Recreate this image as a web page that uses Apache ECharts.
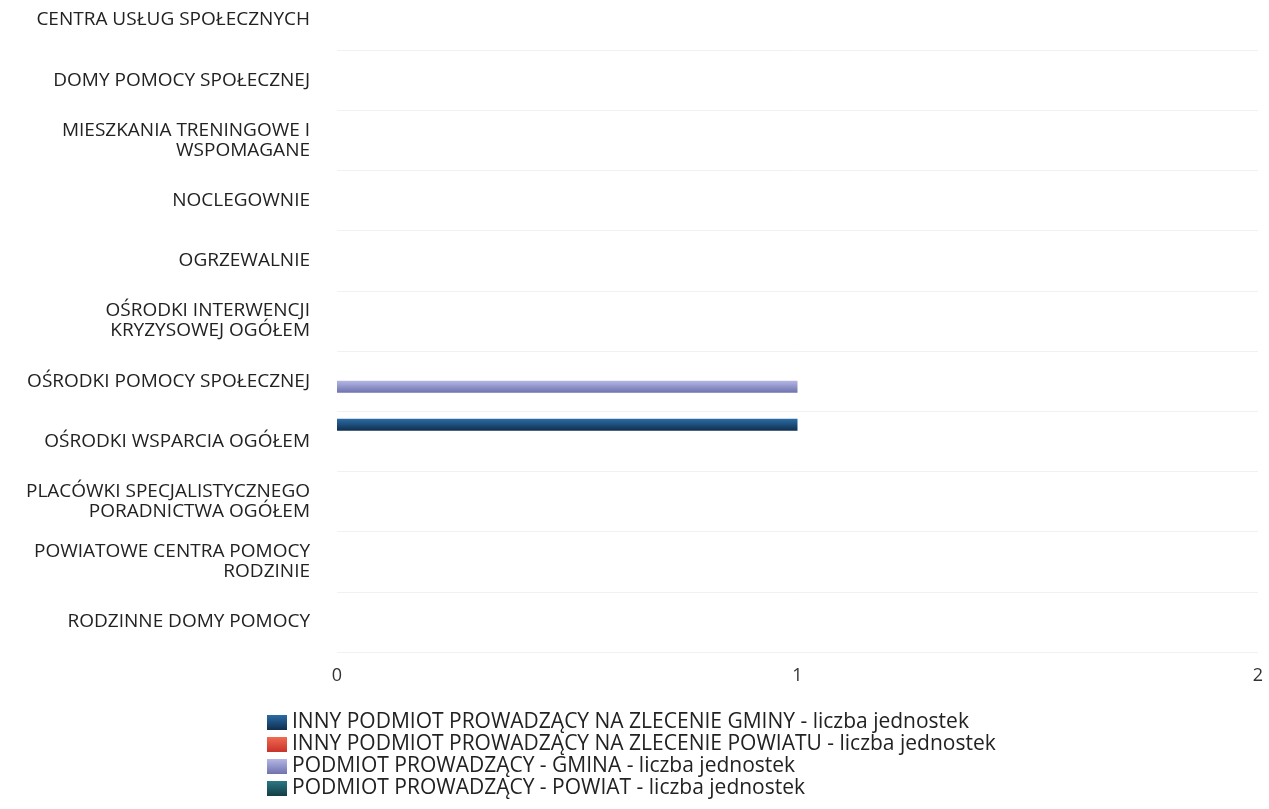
<!DOCTYPE html>
<html>
<head>
<meta charset="utf-8">
<script src="https://cdn.jsdelivr.net/npm/echarts@6/dist/echarts.min.js"></script>
<style>
html,body{margin:0;padding:0;background:#fff;overflow:hidden;}
#chart{position:absolute;left:0;top:-10px;width:1269px;height:819px;}
</style>
</head>
<body>
<div id="chart"></div>
<script>
const categories = [
  "CENTRA USŁUG SPOŁECZNYCH",
  "DOMY POMOCY SPOŁECZNEJ",
  "MIESZKANIA TRENINGOWE I WSPOMAGANE",
  "NOCLEGOWNIE",
  "OGRZEWALNIE",
  "OŚRODKI INTERWENCJI KRYZYSOWEJ OGÓŁEM",
  "OŚRODKI POMOCY SPOŁECZNEJ",
  "OŚRODKI WSPARCIA OGÓŁEM",
  "PLACÓWKI SPECJALISTYCZNEGO PORADNICTWA OGÓŁEM",
  "POWIATOWE CENTRA POMOCY RODZINIE",
  "RODZINNE DOMY POMOCY"
];
const seriesNames = [
  "INNY PODMIOT PROWADZĄCY NA ZLECENIE GMINY - liczba jednostek",
  "INNY PODMIOT PROWADZĄCY NA ZLECENIE POWIATU - liczba jednostek",
  "PODMIOT PROWADZĄCY - GMINA - liczba jednostek",
  "PODMIOT PROWADZĄCY - POWIAT - liczba jednostek"
];
const innyGminy   = [0,0,0,0,0,0,0,1,0,0,0];
const innyPowiatu = [0,0,0,0,0,0,0,0,0,0,0];
const gmina       = [0,0,0,0,0,0,1,0,0,0,0];
const powiat      = [0,0,0,0,0,0,0,0,0,0,0];
const valueTicks = [0,1,2];

const colors = [
  ['#2b6ca6','#0f2e4e'],
  ['#f06a50','#c8322a'],
  ['#b4b7e4','#6f72ae'],
  ['#2a7884','#143c46']
];
function grad(c){
  return new echarts.graphic.LinearGradient(0,0,0,1,[{offset:0,color:c[0]},{offset:1,color:c[1]}]);
}
function wrap(s, max){
  const words = s.split(' ');
  const lines = []; let cur = '';
  for (const w of words){
    if (cur && (cur + ' ' + w).length > max){ lines.push(cur); cur = w; }
    else cur = cur ? cur + ' ' + w : w;
  }
  if (cur) lines.push(cur);
  return lines.join('\n');
}
const dataSets = [innyGminy, innyPowiatu, gmina, powiat];
const chart = echarts.init(document.getElementById('chart'), null, {renderer:'canvas'});
const font = "'Open Sans', 'Noto Sans', sans-serif";
chart.setOption({
  animation:false,
  backgroundColor:'#fff',
  textStyle:{fontFamily:font},
  grid:{left:337, right:11, top:0, bottom:157, containLabel:false},
  xAxis:{
    type:'value', min:valueTicks[0], max:valueTicks[valueTicks.length-1], interval:1,
    axisLine:{show:false}, axisTick:{show:false},
    splitLine:{show:false},
    axisLabel:{color:'#333', fontSize:18, margin:15, fontFamily:font}
  },
  yAxis:{
    type:'category', data:categories, inverse:true,
    axisLine:{show:false}, axisTick:{show:false},
    splitLine:{show:true, lineStyle:{color:'#f1f1f1', width:1}},
    axisLabel:{color:'#222', fontSize:19, margin:27, lineHeight:20, align:'right', fontFamily:font,
      formatter:v=>wrap(v,26)}
  },
  legend:{
    orient:'vertical', left:262, top:717, itemWidth:20, itemHeight:15, itemGap:1,
    icon:'rect',
    textStyle:{color:'#222', fontSize:21, lineHeight:21, fontFamily:font},
    data:seriesNames
  },
  series: dataSets.map((d,i)=>({
    name:seriesNames[i], type:'bar', data:d,
    barWidth:12, barGap:'-8%',
    itemStyle:{color:grad(colors[i])}
  }))
});
</script>
</body>
</html>
